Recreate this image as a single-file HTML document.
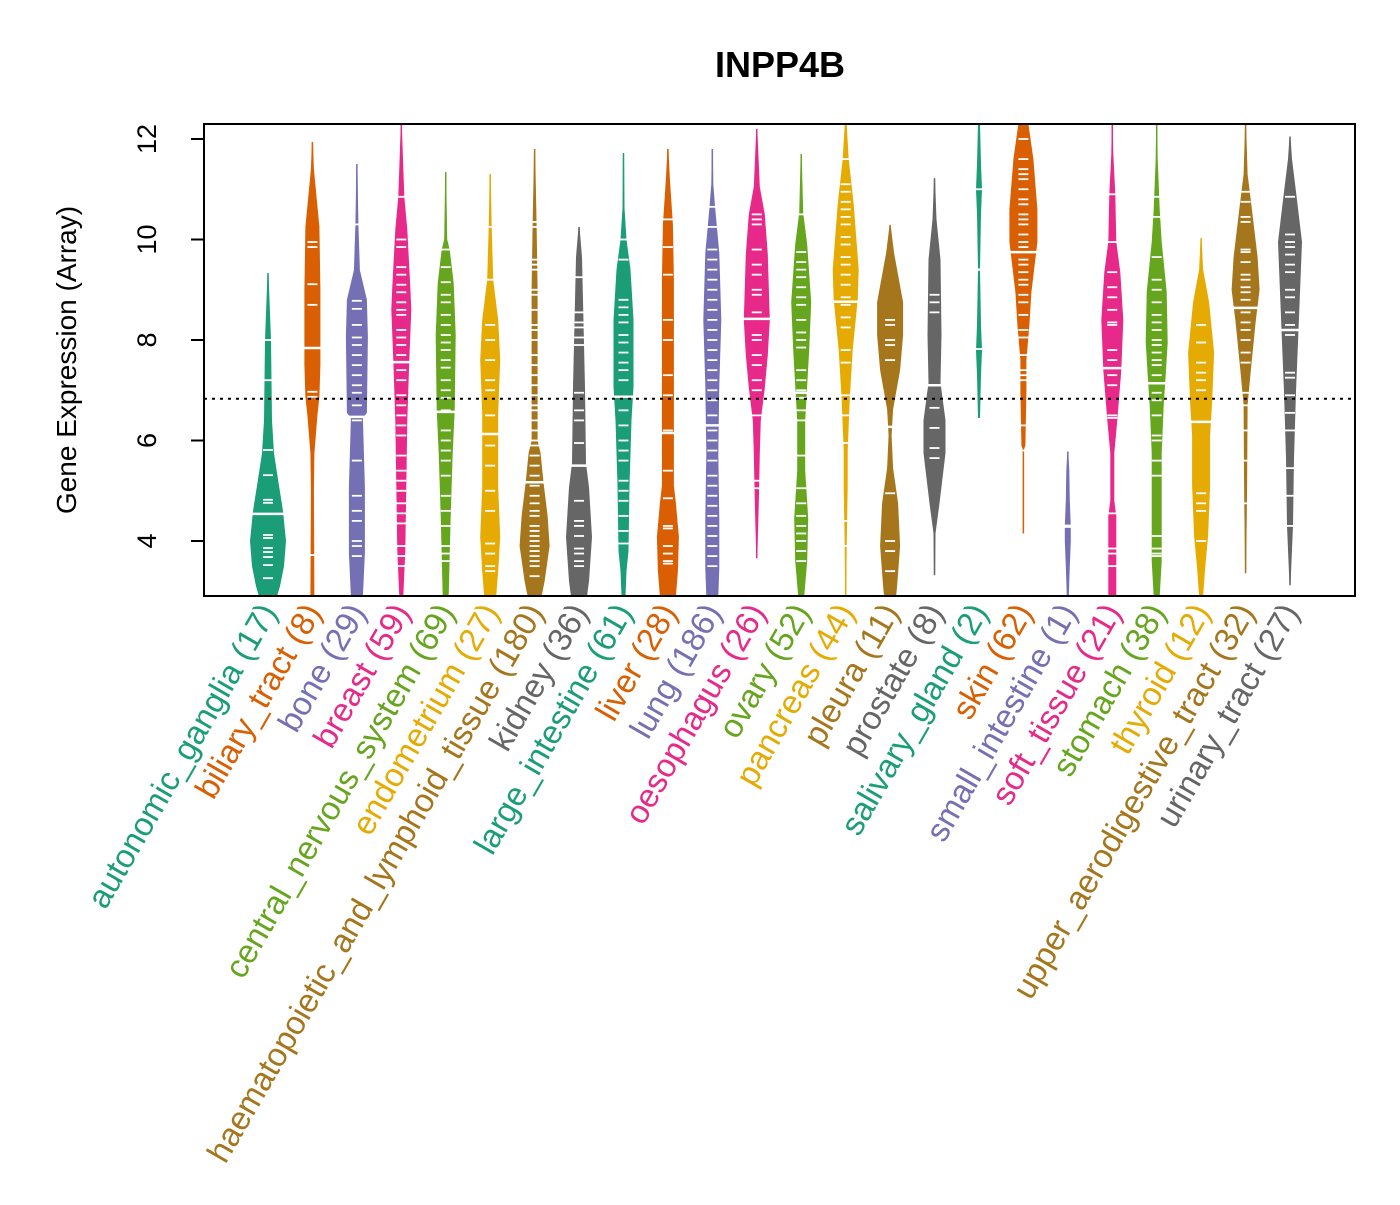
<!DOCTYPE html>
<html><head><meta charset="utf-8"><style>
html,body{margin:0;padding:0;background:#fff;}
svg text{font-family:"Liberation Sans",Arial,sans-serif;}
</style></head><body>
<svg id="chart" width="1400" height="1200" viewBox="0 0 1400 1200" xmlns="http://www.w3.org/2000/svg">
<defs><clipPath id="plotclip"><rect x="205" y="125" width="1149" height="470"/></clipPath></defs>
<text x="780" y="77" font-size="36" font-weight="bold" text-anchor="middle">INPP4B</text>
<text transform="translate(76,360) rotate(-90)" font-size="28" text-anchor="middle">Gene Expression (Array)</text>
<g id="beans" clip-path="url(#plotclip)"></g>
<g id="axes"></g>
<g id="xlabels"></g>
</svg>
<script>
const categories = ["autonomic_ganglia","biliary_tract","bone","breast","central_nervous_system","endometrium","haematopoietic_and_lymphoid_tissue","kidney","large_intestine","liver","lung","oesophagus","ovary","pancreas","pleura","prostate","salivary_gland","skin","small_intestine","soft_tissue","stomach","thyroid","upper_aerodigestive_tract","urinary_tract"];
const counts = [17,8,29,59,69,27,180,36,61,28,186,26,52,44,11,8,2,62,1,21,38,12,32,27];
const medians = [4.54,7.84,6.47,7.56,6.57,6.13,5.17,5.5,6.87,6.15,6.3,8.42,6.95,8.76,6.27,7.1,9.4,9.75,4.3,7.44,7.14,6.37,8.64,8.2];
const overallMean = 6.83;
const yTicks = [4,6,8,10,12];
// density outlines: [value, half-width]
const shapes = [
[[2.9,9],[3.1,12],[3.5,16],[4,18],[4.6,15],[5.1,11],[5.75,6],[6.4,4],[8,3],[9.33,0.5]],
[[2.9,2],[5,1.5],[5.75,2],[6.5,5],[6.87,7],[7.5,8],[9,8],[10.25,7],[11.4,1.5],[11.94,0.5]],
[[2.9,6],[3.76,8],[5.07,8],[6.45,6],[6.55,10],[8.06,11],[8.8,10],[9.39,3],[10.3,1.5],[11.5,0.5]],
[[2.9,2],[3.8,4],[5.1,5],[6.4,6],[7.6,8],[8.6,10],[9.06,9],[10.2,6],[10.85,3],[12,1],[12.3,0.5]],
[[2.9,3],[3.7,4],[4.5,5],[5.75,7],[6.6,9],[8.1,10],[9.13,8],[9.8,4],[10,1.5],[11.34,0.5]],
[[2.9,6],[3.4,8],[4.08,10],[5.07,8],[6.55,8],[7.6,10],[8.4,8],[9.2,3],[10.25,1.5],[11.3,0.5]],
[[2.9,7],[3.2,10],[3.9,15],[4.5,13],[5.15,9],[5.75,6],[6,3],[9,3],[10.3,2],[11.8,0.5]],
[[2.9,8],[3.2,10],[4.08,13],[5.07,10],[5.55,7],[7.06,6],[9.65,3],[10.25,0.5]],
[[2.9,2],[3.4,3],[3.8,5],[5.1,6],[6.4,8],[7.07,10],[8.4,10],[9.4,7],[10,3],[10.63,1],[11.72,0.5]],
[[2.9,8],[3.4,10],[4.08,11],[4.75,8],[5.1,6],[9.2,6],[10.3,5],[11.2,2],[11.8,0.5]],
[[2.9,6],[3.45,7],[4.45,7],[5.75,6],[7.1,7],[8.4,9],[9.73,7],[10.6,3],[11.1,1],[11.8,0.5]],
[[3.66,0.5],[4.75,2],[5.75,3],[6.4,4],[7.05,8],[7.7,11],[8.4,13],[9.7,11],[10.5,8],[11.05,3],[12.2,0.5]],
[[2.9,3],[3.6,6],[4.45,7],[5.4,4],[6.4,4],[7.1,6],[7.8,8],[8.75,10],[9.9,6],[10.53,2],[11.7,0.5]],
[[2.9,0.5],[3.9,1],[5.1,2],[5.8,2],[6.8,4],[7.8,7],[8.8,12],[9.4,13],[10.7,8],[11.6,3],[12.3,1]],
[[2.9,6],[3.1,7],[3.9,10],[4.75,8],[5.45,3],[6.1,1.5],[6.62,3],[7.4,10],[8.1,13],[8.75,13],[9.73,4],[10.29,0.5]],
[[3.32,0.5],[4.15,1],[4.75,5],[5.75,11],[6.4,11],[7.15,6],[8.1,7],[9.6,6],[10.4,2],[11.22,0.5]],
[[6.45,1],[7.3,2],[7.8,3],[8.3,2],[9.4,1],[10.5,2],[11,3],[11.5,2],[12.3,1]],
[[4.15,0.5],[5.82,0.5],[5.9,2],[6.97,3],[7.6,3],[8.3,6],[8.95,8],[9.95,14],[10.6,14],[11.6,10],[12.3,5]],
[[2.9,1],[3.5,2],[4,3],[4.3,3],[4.8,2],[5.4,1.5],[5.78,0.5]],
[[2.9,4],[4.5,4],[4.8,2],[5.75,2],[6.4,5],[7.4,9],[8.4,11],[9.35,8],[9.95,4],[10.9,3],[11.7,1],[12.3,0.5]],
[[2.9,3],[3.6,5],[4.45,5],[5.75,5],[6.7,7],[7.3,9],[7.95,11],[8.95,10],[9.95,5],[10.6,3],[11.6,1],[12.3,0.5]],
[[2.9,2],[3.45,4],[4.1,7],[5.1,9],[6.1,9],[6.75,11],[7.75,13],[8.75,8],[9.4,2],[10.03,0.5]],
[[3.36,0.5],[5.05,1.5],[6.7,2],[7.35,5],[8.35,10],[9,14],[9.65,12],[10.65,6],[11.3,2],[12.3,0.5]],
[[3.12,0.5],[4.3,3],[5.65,4],[6.97,6],[7.95,8],[8.95,10],[9.95,12],[10.95,6],[11.6,2],[12.05,0.5]]
];
const points = [
[8.0,7.2,5.81,5.31,4.82,4.76,4.12,4.06,3.86,3.78,3.68,3.52,3.26],
[9.95,9.85,9.11,8.7,6.97,6.87,3.72],
[10.3,8.78,8.62,8.3,8.05,7.9,7.7,7.5,7.3,7.1,6.95,6.7,6.4,5.6,4.9,4.6,4.4,4.0,3.9,3.7],
[10.85,10.0,9.85,9.45,9.3,9.1,8.95,8.75,8.6,8.5,8.2,8.05,7.9,7.7,7.4,7.2,6.9,6.7,6.5,6.3,6.1,5.7,5.4,5.2,5.0,4.75,4.55,4.35,3.9,3.7,3.5],
[9.8,9.45,9.15,8.9,8.75,8.5,8.3,8.1,7.95,7.8,7.6,7.45,7.2,7.0,6.85,6.6,6.2,6.0,5.8,5.6,5.3,4.9,4.6,4.3,3.9,3.75,3.6],
[10.25,9.2,8.3,8.0,7.6,7.2,7.0,6.5,5.9,5.5,5.0,4.6,3.95,3.75,3.5,3.4],
[10.35,10.25,9.6,9.5,9.4,9.0,8.9,8.6,8.3,8.2,8.0,7.7,7.5,7.3,7.1,6.9,6.7,6.6,6.4,6.2,6.0,5.9,5.7,5.5,5.3,5.1,4.9,4.75,4.6,4.5,4.3,4.2,4.1,4.0,3.9,3.8,3.7,3.6,3.5,3.3],
[9.25,8.55,8.35,8.25,8.05,7.9,6.95,6.6,6.4,5.95,5.5,4.8,4.4,4.3,4.1,3.85,3.75,3.6,3.5],
[10.0,9.6,8.8,8.65,8.5,8.35,8.1,7.95,7.75,7.55,7.4,7.2,6.6,6.3,6.0,5.8,5.6,5.2,5.0,4.8,4.5,4.2,3.95],
[10.4,9.85,9.3,8.4,8.0,7.3,6.9,6.2,5.4,4.85,4.3,4.25,3.9,3.75,3.6,3.55],
[10.65,10.25,9.8,9.6,9.4,9.2,9.0,8.8,8.6,8.4,8.2,8.0,7.8,7.6,7.4,7.2,7.0,6.8,6.5,6.2,6.0,5.8,5.6,5.3,5.1,4.9,4.7,4.5,4.3,4.1,3.9,3.7,3.5],
[10.5,10.4,10.3,9.8,9.5,9.3,9.0,8.9,8.55,8.1,8.0,7.7,7.5,7.2,7.0,6.5,5.2,5.05],
[10.5,9.75,9.55,9.4,9.25,9.05,8.85,8.7,8.4,8.15,8.0,7.85,7.4,7.2,7.0,6.85,6.6,6.4,5.7,5.05,4.75,4.5,4.3,4.15,4.0,3.8,3.6],
[11.6,11.1,10.95,10.75,10.6,10.45,10.3,10.05,9.9,9.65,9.5,9.3,9.1,8.85,8.7,8.45,8.25,7.8,7.55,6.9,6.5,5.95,4.4,3.9],
[8.4,8.3,8.0,7.9,7.6,4.95,4.0,3.8,3.4],
[8.9,8.75,8.55,6.65,6.25,5.85,5.65],
[11.0,7.82],
[12.0,11.6,11.4,11.3,11.2,11.0,10.8,10.7,10.5,10.4,10.3,10.1,9.95,9.85,9.6,9.5,9.35,9.2,9.1,8.9,8.75,8.5,8.2,8.05,7.7,7.4,7.3,7.2,6.3,5.8],
[4.28],
[10.9,9.95,9.35,9.05,8.85,8.6,8.35,8.3,7.8,7.6,7.3,7.1,6.5,6.45,4.55,3.85,3.75,3.5],
[10.85,10.45,9.65,9.2,9.0,8.75,8.5,8.35,8.2,8.0,7.9,7.75,7.6,7.5,7.3,6.95,6.8,6.5,6.1,6.0,5.6,5.3,4.1,3.85,3.75,3.7],
[8.3,7.95,7.55,7.35,7.2,7.0,4.95,4.75,4.6,4.0],
[10.95,10.75,10.45,10.35,9.8,9.75,9.55,9.3,9.2,9.05,8.95,8.8,8.55,8.35,8.2,8.0,7.75,7.55,6.95,6.7,6.2,5.6,4.75],
[10.85,10.1,9.95,9.85,9.7,9.5,9.35,9.0,8.85,8.55,8.3,8.1,7.35,7.25,6.9,6.55,6.2,5.45,4.9,4.3]
];
const palette = ["#1B9E77","#D95F02","#7570B3","#E7298A","#66A61E","#E6AB02","#A6761D","#666666"];
const NS = "http://www.w3.org/2000/svg";
const PX0=204, PX1=1355, PY0=124, PY1=596;
function yScale(v){ return 541 - (v-4)*50.25; }
function xScale(i){ return 268 + i*(1290-268)/(categories.length-1); }
function mk(tag, attrs, parent){ const e=document.createElementNS(NS,tag); for(const k in attrs) e.setAttribute(k,attrs[k]); parent.appendChild(e); return e; }
function hwAt(shape, v){
  if(v<=shape[0][0]) return shape[0][1];
  for(let k=1;k<shape.length;k++){ if(v<=shape[k][0]){ const a=shape[k-1], b=shape[k]; return a[1]+(b[1]-a[1])*(v-a[0])/(b[0]-a[0]); } }
  return shape[shape.length-1][1];
}
const beans=document.getElementById('beans');
categories.forEach((c,i)=>{
  const col=palette[i%8], cx=xScale(i), sh=shapes[i];
  const g=mk('g',{},beans);
  
  
  let left=[], right=[];
  sh.forEach(p=>{ right.push((cx+p[1]).toFixed(1)+','+yScale(p[0]).toFixed(1)); left.unshift((cx-p[1]).toFixed(1)+','+yScale(p[0]).toFixed(1)); });
  const poly=mk('polygon',{points:right.concat(left).join(' '),fill:col},g);
  
  
  mk('line',{x1:cx,x2:cx,y1:yScale(sh[0][0]),y2:yScale(sh[sh.length-1][0]),stroke:col,'stroke-width':1.5},g);
  points[i].forEach(v=>{
    const ln=mk('line',{x1:cx-5,x2:cx+5,y1:yScale(v),y2:yScale(v),stroke:'#fff','stroke-width':1.8},g);
    
    
  });
  const mh=Math.max(hwAt(sh,medians[i]),8)+1;
  const md=mk('line',{x1:cx-mh,x2:cx+mh,y1:yScale(medians[i]),y2:yScale(medians[i]),stroke:'#fff','stroke-width':2.5},g);
  
  
});
const axes=document.getElementById('axes');
const ml=mk('line',{x1:PX0,x2:PX1,y1:yScale(overallMean),y2:yScale(overallMean),stroke:'#000','stroke-width':2,'stroke-dasharray':'3,5'},axes);


const box=mk('rect',{x:PX0,y:PY0,width:PX1-PX0,height:PY1-PY0,fill:'none',stroke:'#000','stroke-width':2},axes);


yTicks.forEach(t=>{
  const y=yScale(t);
  const tk=mk('line',{x1:PX0,x2:PX0-13,y1:y,y2:y,stroke:'#000','stroke-width':2},axes);
  
  
  const tl=mk('text',{transform:'translate(156,'+y+') rotate(-90)','font-size':27,'text-anchor':'middle'},axes);
  tl.textContent=String(t);
  
  
});
const xl=document.getElementById('xlabels');
categories.forEach((c,i)=>{
  const cx=xScale(i);
  const t=mk('text',{transform:'translate('+(cx+10)+',612) rotate(-60)','font-size':33,'text-anchor':'end',fill:palette[i%8]},xl);
  t.textContent=c+' ('+counts[i]+')';
  
  
});
</script>
</body></html>
